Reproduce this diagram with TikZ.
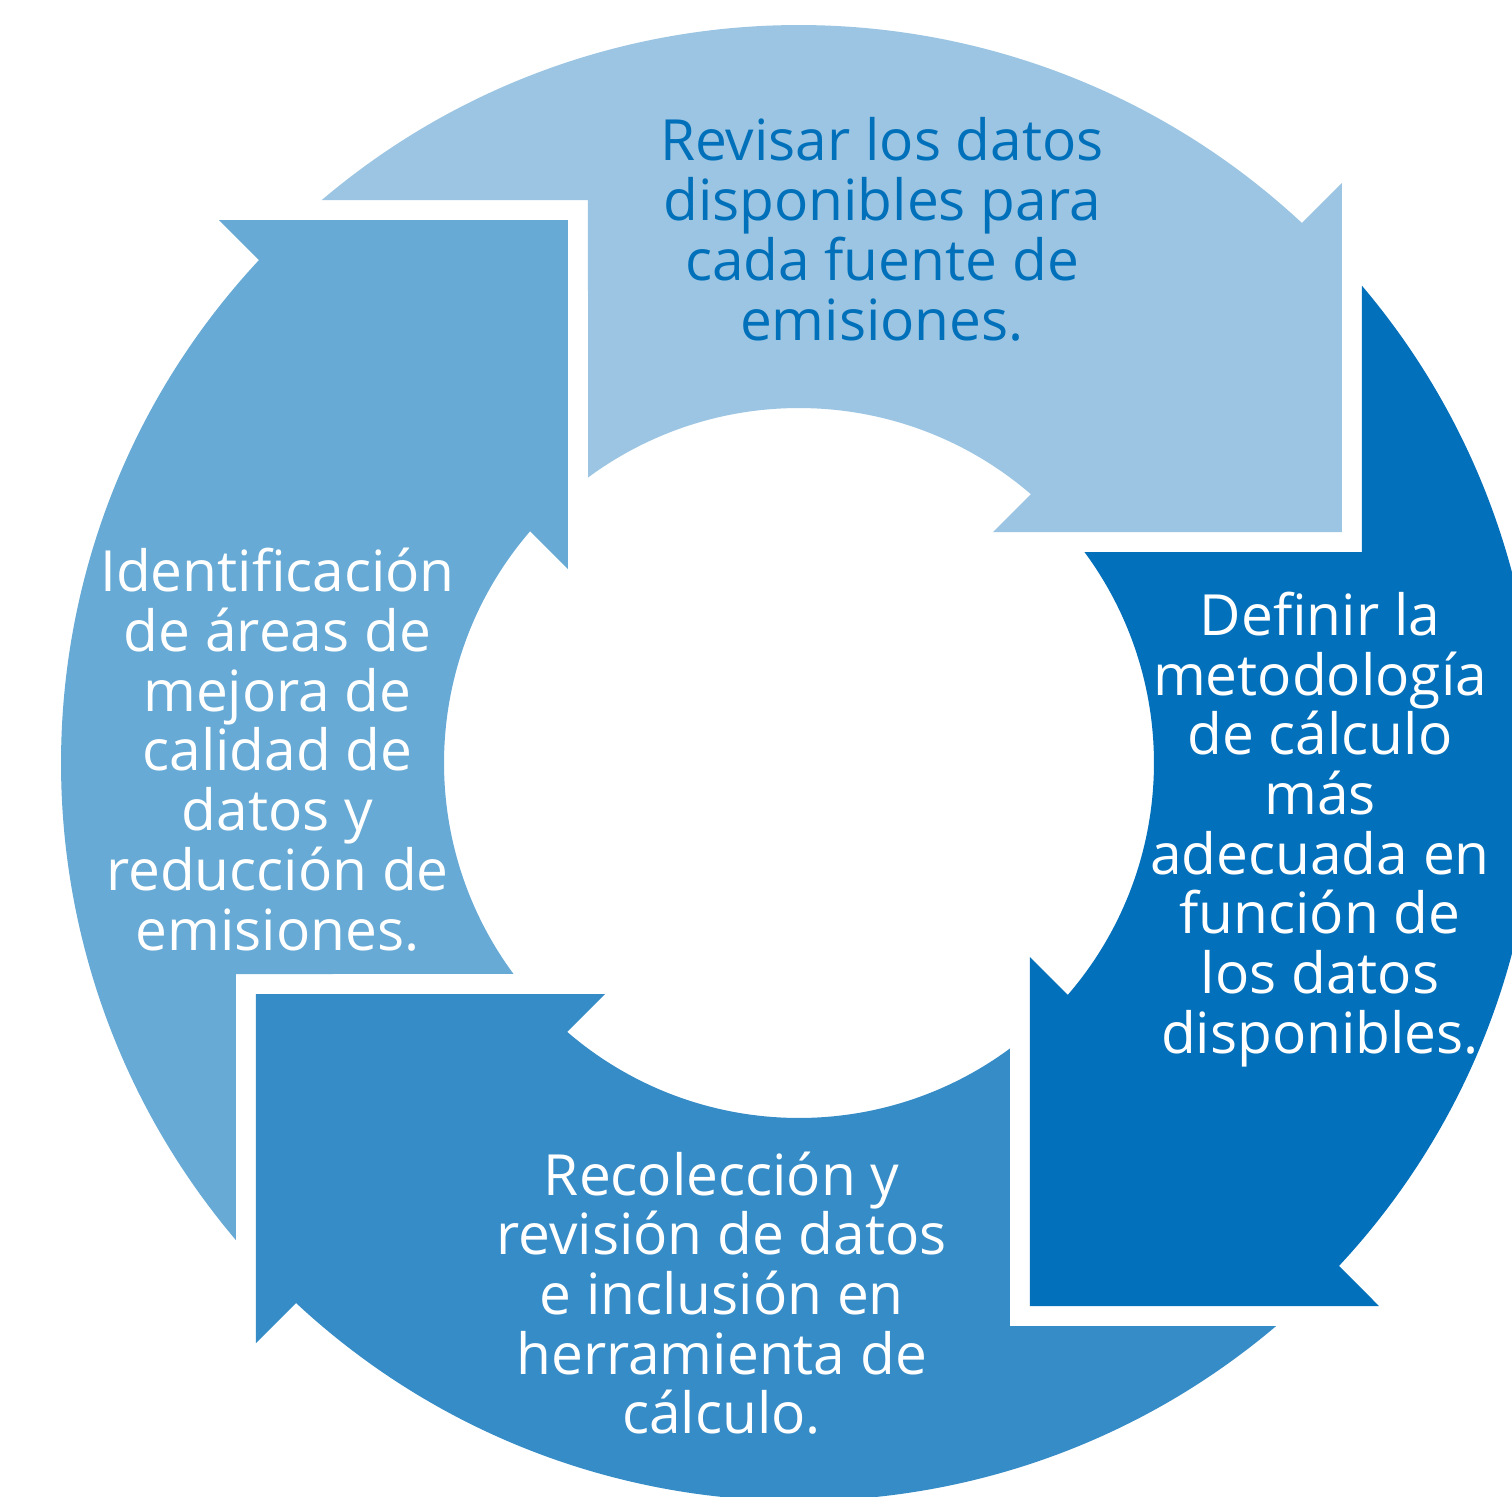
\documentclass[tikz,border=0pt]{standalone}
\usepackage{fontspec}
\setmainfont{Open Sans}
\definecolor{segA}{HTML}{9BC5E2}
\definecolor{segB}{HTML}{0270BA}
\definecolor{segC}{HTML}{368CC7}
\definecolor{segD}{HTML}{67AAD5}
\definecolor{txtdark}{HTML}{0070BA}
\newcommand{\segpath}{(-477.2,563) arc[start angle=130.28, end angle=47.03, radius=738] -- (543,580) -- (543,231) -- (194,231) -- (231.84,268.84) arc[start angle=49.23, end angle=126.47, radius=355] -- (-211,563) -- cycle}
\tikzset{
  lbl/.style={anchor=base, align=center, inner sep=0pt, font=\fontsize{28.4pt}{29.85pt}\selectfont},
}
\begin{document}
\begin{tikzpicture}[x=0.5pt,y=0.5pt]
\useasboundingbox (-799,-733) rectangle (713,763);
\fill[white] (-799,-733) rectangle (713,763);
\clip (-799,-733) rectangle (713,763);
\begin{scope}[rotate=0]
  \fill[segA] \segpath;
\end{scope}
\begin{scope}[rotate=-90]
  \fill[segB] \segpath;
\end{scope}
\begin{scope}[rotate=-180]
  \fill[segC] \segpath;
\end{scope}
\begin{scope}[rotate=-270]
  \fill[segD] \segpath;
\end{scope}
\node[lbl, text=txtdark] (t1) at (83,423) {Revisar los datos\\disponibles para\\cada fuente de\\emisiones.};
\node[lbl, text=white] (t2) at (521,-290.3) {Definir la\\metodología\\de cálculo\\más\\adecuada en\\función de\\los datos\\disponibles.};
\node[lbl, text=white] (t3) at (-77.3,-670.8) {Recolección y\\revisión de datos\\e inclusión en\\herramienta de\\cálculo.};
\node[lbl, text=white] (t4) at (-521.5,-187) {Identificación\\de áreas de\\mejora de\\calidad de\\datos y\\reducción de\\emisiones.};
\end{tikzpicture}
\end{document}
